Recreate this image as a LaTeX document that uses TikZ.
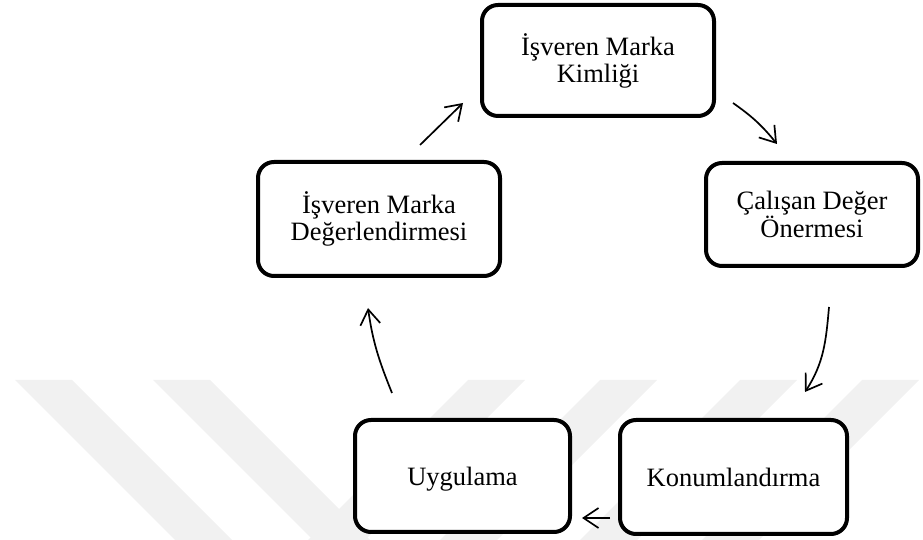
\documentclass[tikz,border=0pt]{standalone}
\usepackage{fontspec}
\setmainfont{Liberation Serif}
\usetikzlibrary{arrows.meta,positioning}
\definecolor{MarkGray}{RGB}{241,241,241}

\begin{document}
\begin{tikzpicture}[x=1pt,y=1pt,>={Straight Barb[length=15pt,width=20pt]},
    stage/.style={draw,line width=4pt,rounded corners=16pt,fill=white,align=center,
      font=\fontsize{26.5}{27}\selectfont,inner sep=0pt},
    oneline/.style={text height=18.5pt,text depth=0pt},
    flow/.style={->,line width=1.7pt}]
  \useasboundingbox (0,0) rectangle (923,540);
  % faint stripes in the background
  \fill[MarkGray] (15,160)--(72,160)--(232,0)--(175,0)--cycle;
  \fill[MarkGray] (153,160)--(210,160)--(370,0)--(313,0)--cycle;
  \fill[MarkGray] (468,160)--(525,160)--(365,0)--(308,0)--cycle;
  \fill[MarkGray] (600,160)--(657,160)--(497,0)--(440,0)--cycle;
  \fill[MarkGray] (740,160)--(797,160)--(637,0)--(580,0)--cycle;
  \fill[MarkGray] (862,160)--(919,160)--(759,0)--(702,0)--cycle;
  % stages
  \node[stage,minimum width=232pt,minimum height=111pt] (identity) at (598,479.5) {İşveren Marka\\Kimliği};
  \node[stage,minimum width=212pt,minimum height=103pt] (value) at (812,325.5) {Çalışan Değer\\Önermesi};
  \node[stage,oneline,minimum width=227pt,minimum height=114pt] (position) at (733.5,63) {Konumlandırma};
  \node[stage,oneline,minimum width=215pt,minimum height=112pt] (apply) at (462.5,64) {Uygulama};
  \node[stage,minimum width=242pt,minimum height=114pt] (assess) at (379,321) {İşveren Marka\\Değerlendirmesi};
  % arrow ends
  \coordinate (s1) at (420,395);   \coordinate (e1) at (463,437);
  \coordinate (s2) at (733,437);   \coordinate (e2) at (777,396);
  \coordinate (s3) at (829,233);   \coordinate (e3) at (805,148);
  \coordinate (s4) at (610,22);    \coordinate (e4) at (582,22);
  \coordinate (s5) at (392,147);   \coordinate (e5) at (368,232);
  \draw[flow] (s1)--(e1);
  \draw[flow] (s2) to[bend left=8] (e2);
  \draw[flow] (s3) to[out=-95,in=57] (e3);
  \draw[flow] (s4)--(e4);
  \draw[flow] (s5) to[out=112,in=-82] (e5);
\end{tikzpicture}
\end{document}
